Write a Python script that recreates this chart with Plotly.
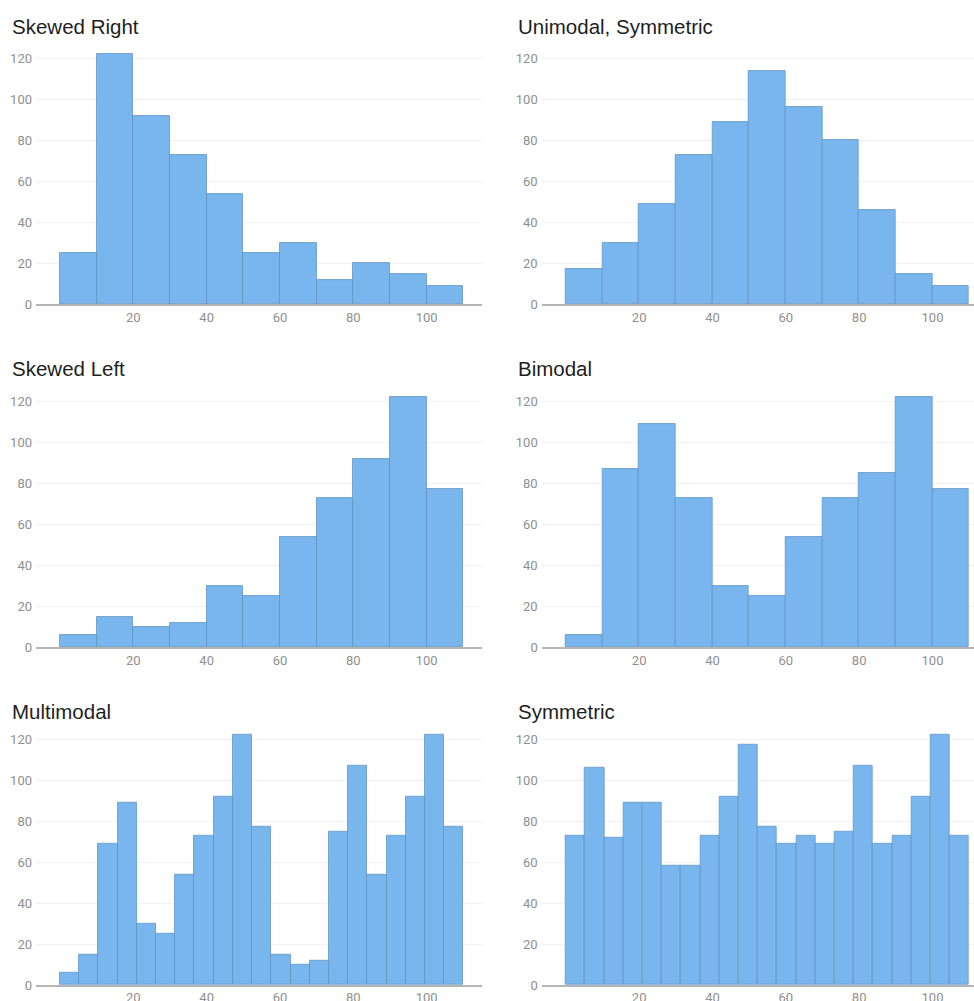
import numpy as np
import plotly.graph_objects as go
from plotly.subplots import make_subplots

# ---------------- data ----------------
titles = ["Skewed Right", "Unimodal, Symmetric", "Skewed Left", "Bimodal", "Multimodal", "Symmetric"]

skewed_right = [25, 122, 92, 73, 54, 25, 30, 12, 20, 15, 9]
unimodal_symmetric = [17, 30, 49, 73, 89, 114, 96, 80, 46, 15, 9]
skewed_left = [6, 15, 10, 12, 30, 25, 54, 73, 92, 122, 77]
bimodal = [6, 87, 109, 73, 30, 25, 54, 73, 85, 122, 77]
multimodal = [6, 15, 69, 89, 30, 25, 54, 73, 92, 122, 77, 15, 10, 12, 75, 107, 54, 73, 92, 122, 77]
symmetric = [73, 106, 72, 89, 89, 58, 58, 73, 92, 117, 77, 69, 73, 69, 75, 107, 69, 73, 92, 122, 73]

x_min, x_max = 0, 110
x_tick_vals = [20, 40, 60, 80, 100]
y_tick_vals = [0, 20, 40, 60, 80, 100, 120]

series = [skewed_right, unimodal_symmetric, skewed_left, bimodal, multimodal, symmetric]

# ---------------- figure ----------------
W, H = 974, 1001
fig = make_subplots(rows=3, cols=2)

BAR_FILL = "rgb(122,182,238)"
BAR_LINE = "rgba(95,145,195,0.75)"

for i, counts in enumerate(series):
    r, c = i // 2 + 1, i % 2 + 1
    edges = np.linspace(x_min, x_max, len(counts) + 1)
    centers = (edges[:-1] + edges[1:]) / 2
    widths = np.diff(edges)
    fig.add_trace(
        go.Bar(x=centers, y=counts, width=widths,
               marker=dict(color=BAR_FILL, line=dict(color=BAR_LINE, width=1)),
               hoverinfo="skip", showlegend=False),
        row=r, col=c)


def fx(p):
    return p / W


def fy(p):
    return 1 - p / H


px_per_unit_x = 3.667
left_dom = (36.0, 482.3)
right_dom = (541.7, 974.0)
x0_left = 60.0
x0_right = 565.8

row_bottoms = [304.3, 647.3, 985.0]
y_top_val = 125
px_per_unit_y = 2.05

tick_font = dict(family="Roboto, 'Open Sans', sans-serif", size=13, color="#8f8f8f")

for i in range(6):
    r, c = i // 2 + 1, i % 2 + 1
    dom = left_dom if c == 1 else right_dom
    x0 = x0_left if c == 1 else x0_right
    xr = [(dom[0] - x0) / px_per_unit_x, (dom[1] - x0) / px_per_unit_x]
    bottom = row_bottoms[r - 1]
    top = bottom - y_top_val * px_per_unit_y
    fig.update_xaxes(
        domain=[fx(dom[0]), min(1.0, fx(dom[1]))], range=xr,
        tickvals=x_tick_vals, showgrid=False, zeroline=False,
        showline=True, linecolor="#b4b4b4", linewidth=1.5,
        ticks="", tickfont=tick_font, fixedrange=True, automargin=False,
        row=r, col=c)
    fig.update_yaxes(
        domain=[fy(bottom), fy(top)], range=[0, y_top_val],
        tickvals=y_tick_vals, showgrid=True, gridcolor="#f1f1f1", gridwidth=1,
        zeroline=False, showline=False, ticks="", tickfont=tick_font,
        ticklabelstandoff=3, fixedrange=True, automargin=False,
        row=r, col=c)

title_pos = [(12, 27), (518, 27), (12, 368), (518, 368), (12, 711), (518, 711)]
for t, (px, py) in zip(titles, title_pos):
    fig.add_annotation(
        text=t, x=fx(px), y=fy(py), xref="paper", yref="paper",
        xanchor="left", yanchor="middle", showarrow=False, xshift=-2,
        font=dict(family="'Liberation Sans', Arial, sans-serif", size=20.5, color="#1e1e1e"))

fig.update_layout(
    width=W, height=H, margin=dict(l=0, r=0, t=0, b=0, autoexpand=False),
    paper_bgcolor="white", plot_bgcolor="white",
    bargap=0, barmode="overlay",
)

fig.write_html(
    "out.html",
    config={"displayModeBar": False},
    post_script="document.body.style.margin='0';document.body.style.overflow='hidden';",
)
